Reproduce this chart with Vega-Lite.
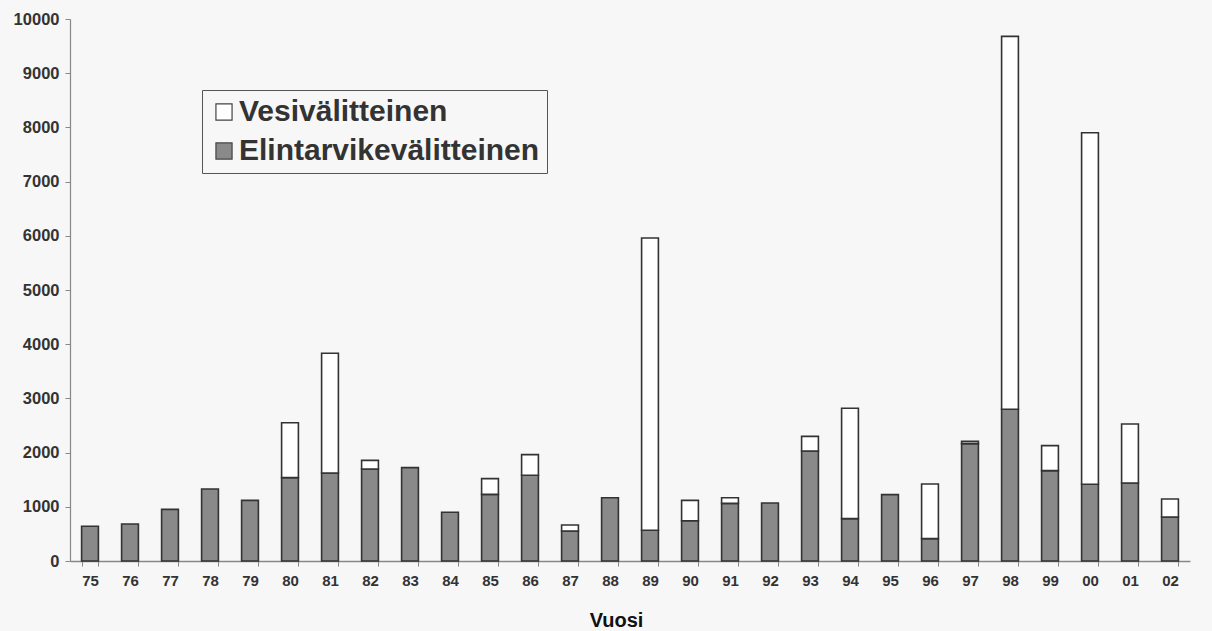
{
  "$schema": "https://vega.github.io/schema/vega-lite/v6.json",
  "width": 1120,
  "height": 542,
  "autosize": {"type": "none"},
  "padding": {"left": 70, "top": 19, "right": 22, "bottom": 70},
  "background": "#f7f7f7",
  "config": {
    "view": {"stroke": null},
    "font": "Liberation Sans"
  },
  "data": {
    "values": [
      {"year": "75", "type": "Elintarvikevälitteinen", "cases": 640},
      {"year": "76", "type": "Elintarvikevälitteinen", "cases": 683},
      {"year": "77", "type": "Elintarvikevälitteinen", "cases": 953},
      {"year": "78", "type": "Elintarvikevälitteinen", "cases": 1328},
      {"year": "79", "type": "Elintarvikevälitteinen", "cases": 1119},
      {"year": "80", "type": "Elintarvikevälitteinen", "cases": 1538},
      {"year": "80", "type": "Vesivälitteinen", "cases": 1014},
      {"year": "81", "type": "Elintarvikevälitteinen", "cases": 1624},
      {"year": "81", "type": "Vesivälitteinen", "cases": 2208},
      {"year": "82", "type": "Elintarvikevälitteinen", "cases": 1697},
      {"year": "82", "type": "Vesivälitteinen", "cases": 160},
      {"year": "83", "type": "Elintarvikevälitteinen", "cases": 1722},
      {"year": "84", "type": "Elintarvikevälitteinen", "cases": 900},
      {"year": "85", "type": "Elintarvikevälitteinen", "cases": 1230},
      {"year": "85", "type": "Vesivälitteinen", "cases": 290},
      {"year": "86", "type": "Elintarvikevälitteinen", "cases": 1581},
      {"year": "86", "type": "Vesivälitteinen", "cases": 381},
      {"year": "87", "type": "Elintarvikevälitteinen", "cases": 553},
      {"year": "87", "type": "Vesivälitteinen", "cases": 111},
      {"year": "88", "type": "Elintarvikevälitteinen", "cases": 1168},
      {"year": "89", "type": "Elintarvikevälitteinen", "cases": 566},
      {"year": "89", "type": "Vesivälitteinen", "cases": 5394},
      {"year": "90", "type": "Elintarvikevälitteinen", "cases": 744},
      {"year": "90", "type": "Vesivälitteinen", "cases": 375},
      {"year": "91", "type": "Elintarvikevälitteinen", "cases": 1064},
      {"year": "91", "type": "Vesivälitteinen", "cases": 104},
      {"year": "92", "type": "Elintarvikevälitteinen", "cases": 1070},
      {"year": "93", "type": "Elintarvikevälitteinen", "cases": 2030},
      {"year": "93", "type": "Vesivälitteinen", "cases": 270},
      {"year": "94", "type": "Elintarvikevälitteinen", "cases": 781},
      {"year": "94", "type": "Vesivälitteinen", "cases": 2036},
      {"year": "95", "type": "Elintarvikevälitteinen", "cases": 1224},
      {"year": "96", "type": "Elintarvikevälitteinen", "cases": 412},
      {"year": "96", "type": "Vesivälitteinen", "cases": 1009},
      {"year": "97", "type": "Elintarvikevälitteinen", "cases": 2165},
      {"year": "97", "type": "Vesivälitteinen", "cases": 43},
      {"year": "98", "type": "Elintarvikevälitteinen", "cases": 2800},
      {"year": "98", "type": "Vesivälitteinen", "cases": 6880},
      {"year": "99", "type": "Elintarvikevälitteinen", "cases": 1667},
      {"year": "99", "type": "Vesivälitteinen", "cases": 461},
      {"year": "00", "type": "Elintarvikevälitteinen", "cases": 1415},
      {"year": "00", "type": "Vesivälitteinen", "cases": 6485},
      {"year": "01", "type": "Elintarvikevälitteinen", "cases": 1439},
      {"year": "01", "type": "Vesivälitteinen", "cases": 1089},
      {"year": "02", "type": "Elintarvikevälitteinen", "cases": 812},
      {"year": "02", "type": "Vesivälitteinen", "cases": 332}
    ]
  },
  "mark": {"type": "bar", "stroke": "#333333", "strokeWidth": 1.6},
  "encoding": {
    "x": {
      "field": "year",
      "type": "nominal",
      "sort": null,
      "scale": {"paddingInner": 0.58, "paddingOuter": 0.29},
      "axis": {
        "title": "Vuosi",
        "titleFont": "Liberation Sans",
        "titleFontSize": 20,
        "titleFontWeight": "bold",
        "titleColor": "#111111",
        "titleX": 546,
        "titleAlign": "center",
        "titleAnchor": null,
        "titlePadding": 22,
        "labelAngle": 0,
        "labelFontSize": 15,
        "labelFontWeight": "bold",
        "labelColor": "#333333",
        "labelPadding": 7,
        "tickBand": "extent",
        "tickColor": "#888888",
        "tickSize": 5,
        "domainColor": "#888888",
        "domainWidth": 1.5,
        "grid": false
      }
    },
    "y": {
      "field": "cases",
      "type": "quantitative",
      "stack": "zero",
      "scale": {"domain": [0, 10000], "nice": false},
      "axis": {
        "title": null,
        "values": [0, 1000, 2000, 3000, 4000, 5000, 6000, 7000, 8000, 9000, 10000],
        "format": "d",
        "labelFontSize": 16.5,
        "labelFontWeight": "bold",
        "labelColor": "#333333",
        "labelPadding": 6,
        "tickColor": "#888888",
        "tickSize": 5,
        "domainColor": "#888888",
        "domainWidth": 1.2,
        "grid": false
      }
    },
    "color": {
      "field": "type",
      "type": "nominal",
      "scale": {
        "domain": ["Vesivälitteinen", "Elintarvikevälitteinen"],
        "range": ["#ffffff", "#8a8a8a"]
      },
      "legend": {
        "title": null,
        "orient": "none",
        "legendX": 132,
        "legendY": 71,
        "direction": "vertical",
        "symbolType": "square",
        "symbolSize": 260,
        "symbolStrokeColor": "#444444",
        "symbolStrokeWidth": 1.2,
        "symbolOpacity": 1,
        "labelFontSize": 30,
        "labelFontWeight": "bold",
        "labelColor": "#333333",
        "labelLimit": 600,
        "labelOffset": 0,
        "rowPadding": 9,
        "strokeColor": "#555555",
        "fillColor": "#f7f7f7",
        "padding": 7
      }
    },
    "order": {"field": "type", "sort": "ascending"}
  }
}
